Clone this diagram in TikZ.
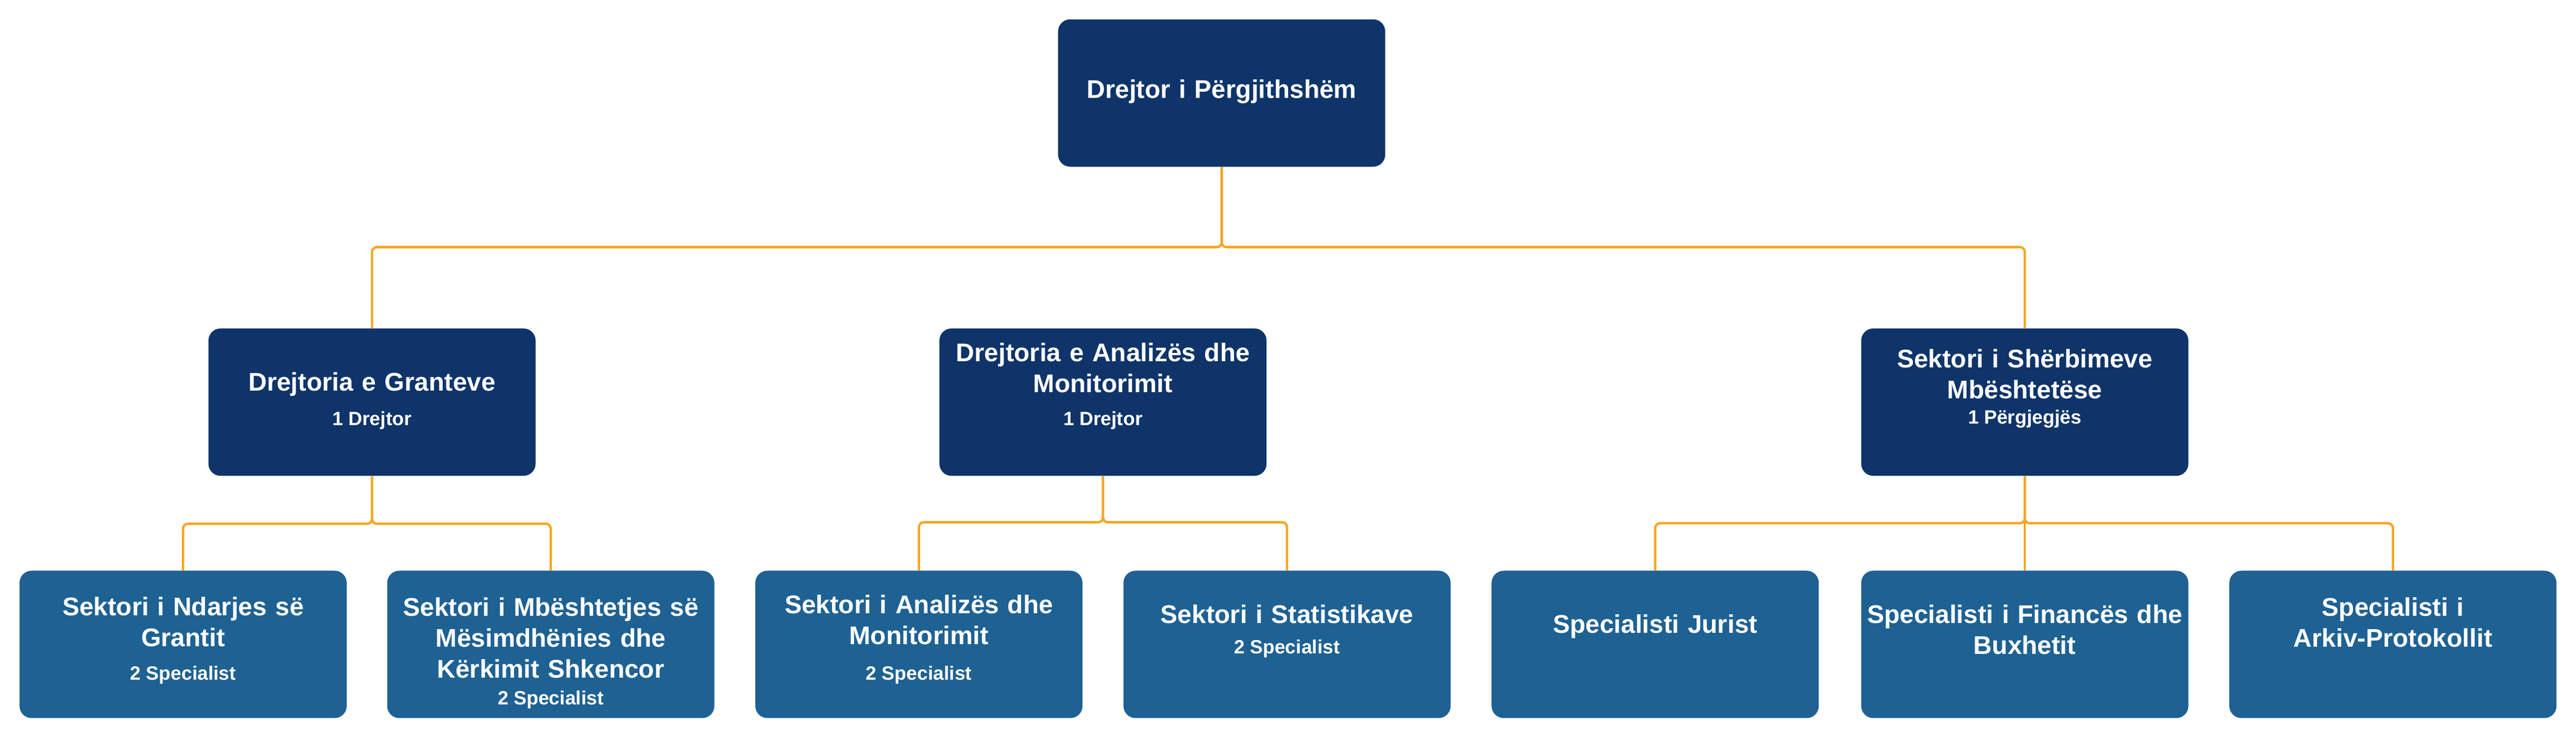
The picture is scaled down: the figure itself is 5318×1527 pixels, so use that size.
\documentclass[tikz,border=0pt]{standalone}
\usepackage{fontspec}
\setmainfont{Liberation Sans}
\usetikzlibrary{calc}
\definecolor{navy}{HTML}{0E346A}
\definecolor{steel}{HTML}{1E6193}
\definecolor{amber}{HTML}{F5A623}

\begin{document}
\begin{tikzpicture}[x=0.01cm, y=-0.01cm]
\tikzset{
  orgbox/.style={rounded corners=0.25cm, minimum width=6.75cm, minimum height=3.04cm, inner sep=0pt},
  topbox/.style={orgbox, fill=navy},
  secbox/.style={orgbox, fill=steel},
  ttl/.style={text=white, anchor=base, inner sep=0pt, text width=6.6cm, align=center,
    font=\fontsize{15}{18.2}\selectfont\bfseries},
  cnt/.style={text=white, anchor=base, inner sep=0pt, font=\fontsize{11.3}{13}\selectfont\bfseries},
  link/.style={draw=amber, line width=1.4pt, rounded corners=0.1cm}
}
\useasboundingbox (0,0) rectangle (5318,1527);

  \coordinate (busT) at (0,510);
  \coordinate (busA) at (0,1081);
  \coordinate (busB) at (0,1078);
  \coordinate (busC) at (0,1080);

  \node[topbox] (dp) at (2522,192) {};
  \node[topbox] (dg) at (768,830) {};
  \node[topbox] (dam) at (2277,830) {};
  \node[topbox] (ssm) at (4180,830) {};

  \node[secbox] (snd) at (378,1330) {};
  \node[secbox] (smm) at (1137,1330) {};
  \node[secbox] (sam) at (1897,1330) {};
  \node[secbox] (sst) at (2657,1330) {};
  \node[secbox] (sj) at (3417,1330) {};
  \node[secbox] (sfb) at (4180,1330) {};
  \node[secbox] (sap) at (4940,1330) {};

  \draw[link] (dp.south) -- (dp.south |- busT) -| (dg.north);
  \draw[link] (dp.south) -- (dp.south |- busT) -| (ssm.north);
  \draw[link] (dg.south) -- (dg.south |- busA) -| (snd.north);
  \draw[link] (dg.south) -- (dg.south |- busA) -| (smm.north);
  \draw[link] (dam.south) -- (dam.south |- busB) -| (sam.north);
  \draw[link] (dam.south) -- (dam.south |- busB) -| (sst.north);
  \draw[link] (ssm.south) -- (ssm.south |- busC) -| (sj.north);
  \draw[link] (ssm.south) -- (sfb.north);
  \draw[link] (ssm.south) -- (ssm.south |- busC) -| (sap.north);

  \node[ttl] (dpT) at ($(dp.north)+(0,163)$) {Drejtor i Përgjithshëm};

  \node[ttl] (dgT) at ($(dg.north)+(0,129)$) {Drejtoria e Granteve};
  \node[cnt] (dgC) at ($(dg.north)+(0,201)$) {1 Drejtor};
  \node[ttl] (damT) at ($(dam.north)+(0,69)$) {Drejtoria e Analizës dhe\\ Monitorimit};
  \node[cnt] (damC) at ($(dam.north)+(0,201)$) {1 Drejtor};
  \node[ttl] (ssmT) at ($(ssm.north)+(0,82)$) {Sektori i Shërbimeve\\ Mbështetëse};
  \node[cnt] (ssmC) at ($(ssm.north)+(0,198)$) {1 Përgjegjës};

  \node[ttl] (sndT) at ($(snd.north)+(0,93)$) {Sektori i Ndarjes së\\ Grantit};
  \node[cnt] (sndC) at ($(snd.north)+(0,226)$) {2 Specialist};
  \node[ttl] (smmT) at ($(smm.north)+(0,94)$) {Sektori i Mbështetjes së\\ Mësimdhënies dhe\\ Kërkimit Shkencor};
  \node[cnt] (smmC) at ($(smm.north)+(0,277)$) {2 Specialist};
  \node[ttl] (samT) at ($(sam.north)+(0,89)$) {Sektori i Analizës dhe\\ Monitorimit};
  \node[cnt] (samC) at ($(sam.north)+(0,226)$) {2 Specialist};
  \node[ttl] (sstT) at ($(sst.north)+(0,109)$) {Sektori i Statistikave};
  \node[cnt] (sstC) at ($(sst.north)+(0,172)$) {2 Specialist};
  \node[ttl] (sjT) at ($(sj.north)+(0,129)$) {Specialisti Jurist};
  \node[ttl] (sfbT) at ($(sfb.north)+(0,109)$) {Specialisti i Financës dhe\\ Buxhetit};
  \node[ttl] (sapT) at ($(sap.north)+(0,94)$) {Specialisti i\\ Arkiv-Protokollit};
\end{tikzpicture}
\end{document}
